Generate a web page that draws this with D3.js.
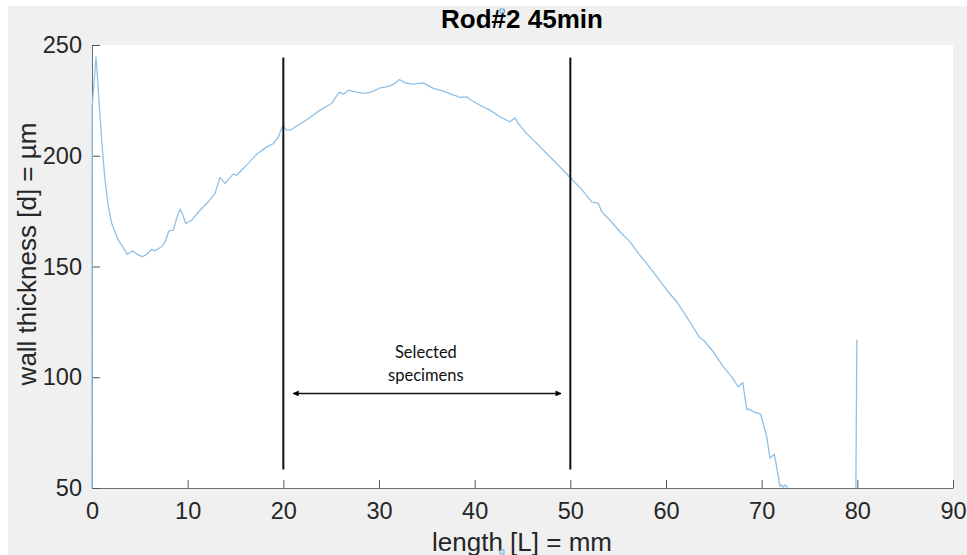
<!DOCTYPE html>
<html>
<head>
<meta charset="utf-8">
<script src="https://cdn.jsdelivr.net/npm/d3@7"></script>
<style>
  body { margin: 0; background: #fff; }
  svg { display: block; }
  .tick text { font-family: "Liberation Sans", Arial, sans-serif; fill: #262626; }
</style>
</head>
<body>
<svg id="chart" width="967" height="555"></svg>
<script>
//measured profile of the rod, length in mm and wall thickness in um
var lengthMm = [0, 0.02, 0.42, 0.66, 1.01, 1.36, 1.71, 2.06, 2.75, 3.10, 3.69, 4.25, 4.74, 5.26, 5.71,
    6.24, 6.58, 7.28, 7.63, 8.05, 8.50, 8.85, 9.20, 9.44, 9.79, 10.42, 11.29, 12.16, 12.86, 13.38,
    13.90, 14.77, 15.12, 15.99, 17.21, 18.26, 18.95, 19.48, 19.93, 20.35, 20.77, 21.74, 22.79, 23.83,
    25.05, 25.50, 25.85, 26.27, 26.79, 27.67, 28.54, 29.23, 30.10, 30.80, 31.50, 32.13, 32.72, 33.59,
    34.63, 35.68, 36.72, 37.60, 38.12, 38.47, 39.17, 39.51, 40.56, 41.60, 42.65, 43.69, 44.21, 44.56,
    45.44, 46.49, 47.53, 48.57, 49.97, 51.18, 52.23, 52.93, 53.28, 54.15, 55.19, 56.24, 57.11, 57.98,
    59.03, 60.07, 61.12, 62.16, 63.03, 63.49, 63.91, 64.95, 66.00, 66.87, 67.56, 68.02, 68.44, 68.72,
    69.14, 69.90, 70.53, 70.87, 71.32, 71.50, 71.92, 72.10, 72.27, 72.48, 72.69, 72.80, 79.80, 79.95];
var thicknessUm = [20, 222, 244.5, 229.6, 207, 189, 176.9, 169.4, 161.9, 159.7, 155.5, 157.1, 155.5, 154.4, 155.5,
    157.7, 157.1, 158.9, 161.1, 166.1, 166.4, 171.7, 175.9, 174, 169.4, 170.9, 175.4, 179.2, 183, 190.2,
    187.5, 191.7, 191.2, 195, 200.7, 204, 205.5, 208.5, 213.5, 211.6, 211.6, 214.3, 217.3, 220.6,
    223.6, 226.6, 228.6, 227.8, 229.6, 228.7, 228.2, 228.8, 230.6, 231.1, 232.2, 234.4, 232.9, 232.3,
    232.9, 230.4, 229.2, 227.7, 226.9, 226.3, 226.6, 225.4, 222.8, 220.6, 217.6, 215.3, 217.1, 214.6,
    210, 205.5, 201, 196.5, 190.2, 184.8, 179.2, 178.5, 174.7, 170.9, 165.7, 161.1, 155.9, 151.4,
    145.4, 139.4, 134.1, 127.3, 121.3, 118, 116.8, 111.5, 104.7, 100.2, 95.7, 97.7, 85.5, 85.6,
    84.4, 83.3, 73.2, 63.4, 65.3, 61.1, 50.6, 51.4, 50.3, 51.4, 50.3, 20, 20, 117];

var xTicks = [0, 10, 20, 30, 40, 50, 60, 70, 80, 90];
var yTicks = [50, 100, 150, 200, 250];

//annotation: the selected window and its arrow
var selectedBounds = [20, 50];
var boundSpan = [58.4, 244.4];
var arrowSpan = [21.04, 49.02];
var arrowLevel = 92.7;
var noteLines = ["Selected", "specimens"];
var noteAt = [34.9, 108.7, 98.3];

var svg = d3.select("#chart");
//plot box in pixels (window.top is reserved, so no bare 'top')
var box = {left: 92, right: 953, top: 45, bottom: 488};

var x = d3.scaleLinear().domain([0, 90]).range([box.left, box.right]);
var y = d3.scaleLinear().domain([50, 250]).range([box.bottom, box.top]);

//figure background and white axes area
svg.append("rect").attr("x", 8).attr("y", 6).attr("width", 959).attr("height", 549).attr("fill", "#f0f0f0");
svg.append("rect").attr("x", box.left).attr("y", box.top)
    .attr("width", box.right - box.left).attr("height", box.bottom - box.top).attr("fill", "#fff");

var defs = svg.append("defs");
defs.append("clipPath").attr("id", "plotClip")
    .append("rect").attr("x", box.left - 2).attr("y", box.top)
    .attr("width", box.right - box.left + 2).attr("height", box.bottom - box.top);

defs.append("marker").attr("id", "head").attr("viewBox", "0 0 10 10")
    .attr("refX", 9).attr("refY", 5).attr("markerWidth", 7).attr("markerHeight", 6)
    .attr("markerUnits", "userSpaceOnUse").attr("orient", "auto-start-reverse")
    .append("path").attr("d", "M0,0L10,5L0,10Z").attr("fill", "#000");

//axes, ticks drawn inward like matlab
var xAxis = svg.append("g").attr("transform", "translate(0," + box.bottom + ")")
    .call(d3.axisBottom(x).tickValues(xTicks).tickSizeInner(-8).tickSizeOuter(0).tickPadding(14));
var yAxis = svg.append("g").attr("transform", "translate(" + box.left + ",0)")
    .call(d3.axisLeft(y).tickValues(yTicks).tickSizeInner(-8).tickSizeOuter(0).tickPadding(10));

[xAxis, yAxis].forEach(function(ax) {
    ax.select(".domain").attr("stroke", "#707070");
    ax.selectAll(".tick line").attr("stroke", "#555");
    ax.selectAll(".tick text").style("font-size", "23.5px");
});

//the measured curve
var line = d3.line().x(function(d) { return x(d[0]); }).y(function(d) { return y(d[1]); });
var points = lengthMm.map(function(v, i) { return [v, thicknessUm[i]]; });

svg.append("path").datum(points)
    .attr("clip-path", "url(#plotClip)")
    .attr("d", line)
    .attr("fill", "none")
    .attr("stroke", "#8fc1e6")
    .attr("stroke-width", 1.3)
    .attr("stroke-linejoin", "round");

//vertical bounds of the selection
svg.selectAll(".bound").data(selectedBounds).enter().append("line")
    .attr("x1", function(d) { return x(d); }).attr("x2", function(d) { return x(d); })
    .attr("y1", y(boundSpan[1])).attr("y2", y(boundSpan[0]))
    .attr("stroke", "#111").attr("stroke-width", 2);

svg.append("line")
    .attr("x1", x(arrowSpan[0])).attr("x2", x(arrowSpan[1]))
    .attr("y1", y(arrowLevel)).attr("y2", y(arrowLevel))
    .attr("stroke", "#111").attr("stroke-width", 1.5)
    .attr("marker-start", "url(#head)").attr("marker-end", "url(#head)");

svg.selectAll(".note").data(noteLines).enter().append("text")
    .attr("x", x(noteAt[0]))
    .attr("y", function(d, i) { return y(noteAt[i + 1]); })
    .attr("text-anchor", "middle")
    .style("font-family", "Lato, 'Open Sans', sans-serif")
    .style("font-size", "16.5px")
    .attr("fill", "#111")
    .text(function(d) { return d; });

//title and axis labels
svg.append("text").attr("x", 522).attr("y", 28).attr("text-anchor", "middle")
    .style("font-family", "'Liberation Sans', Arial, sans-serif").style("font-weight", "bold")
    .style("font-size", "26px").attr("fill", "#000").text("Rod#2 45min");

svg.append("text").attr("x", 522).attr("y", 551).attr("text-anchor", "middle")
    .style("font-family", "'Liberation Sans', Arial, sans-serif").style("font-size", "26px")
    .attr("fill", "#262626").text("length [L] = mm");

svg.append("text").attr("transform", "translate(36,254) rotate(-90)").attr("text-anchor", "middle")
    .style("font-family", "'Liberation Sans', Arial, sans-serif").style("font-size", "26px")
    .attr("fill", "#262626").text("wall thickness [d] = \u00b5m");

//little selection handles left in the screenshot
[[500, 9], [500, 550]].forEach(function(p) {
    svg.append("rect").attr("x", p[0]).attr("y", p[1]).attr("width", 4).attr("height", 4)
        .attr("fill", "#d6e8f7").attr("stroke", "#5b9bd5").attr("stroke-width", 0.8);
});
</script>
</body>
</html>
